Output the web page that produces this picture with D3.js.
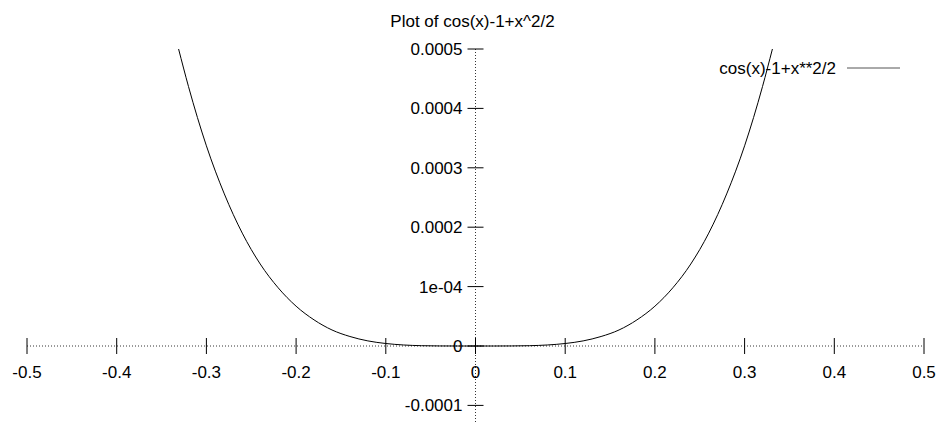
<!DOCTYPE html>
<html>
<head>
<meta charset="utf-8">
<script src="https://cdn.jsdelivr.net/npm/d3@7"></script>
<style>
  body { margin: 0; background: #fff; }
  text { font-family: "Liberation Sans", Arial, sans-serif; font-size: 17px; fill: #000; }
</style>
</head>
<body>
<svg id="chart"></svg>
<script>
// Dimensions
const width = 947;
const height = 423;

// Valeurs (y en unités de 1e-4)
const xValues = [-0.331, -0.32, -0.30, -0.28, -0.26, -0.24, -0.22, -0.20, -0.18, -0.16, -0.14, -0.12, -0.10, -0.08, -0.06, -0.04, -0.02, 0,
                 0.02, 0.04, 0.06, 0.08, 0.10, 0.12, 0.14, 0.16, 0.18, 0.20, 0.22, 0.24, 0.26, 0.28, 0.30, 0.32, 0.331];
const yValues = [5.0, 4.37, 3.37, 2.56, 1.90, 1.38, 0.98, 0.67, 0.44, 0.27, 0.16, 0.086, 0.042, 0.017, 0.005, 0.001, 0.0, 0,
                 0.0, 0.001, 0.005, 0.017, 0.042, 0.086, 0.16, 0.27, 0.44, 0.67, 0.98, 1.38, 1.90, 2.56, 3.37, 4.37, 5.0];
const xTicks = [-0.5, -0.4, -0.3, -0.2, -0.1, 0, 0.1, 0.2, 0.3, 0.4, 0.5];
const yTicks = [-0.0001, 0, 0.0001, 0.0002, 0.0003, 0.0004, 0.0005];
const yTickLabels = ["-0.0001", "0", "1e-04", "0.0002", "0.0003", "0.0004", "0.0005"];
const title = "Plot of cos(x)-1+x^2/2";
const legendLabel = "cos(x)-1+x**2/2";

const x = d3.scaleLinear().domain([-0.5, 0.5]).range([27, 924]);
const y = d3.scaleLinear().domain([0, 0.0005]).range([346, 49]);

const svg = d3.select("#chart")
    .attr("width", width)
    .attr("height", height);

// Axes pointillés
svg.append("line")
    .attr("x1", x(-0.5)).attr("x2", x(0.5))
    .attr("y1", y(0)).attr("y2", y(0))
    .attr("stroke", "#000").attr("stroke-width", 0.8)
    .attr("stroke-dasharray", "1,2");
svg.append("line")
    .attr("x1", x(0)).attr("x2", x(0))
    .attr("y1", y(0.0005)).attr("y2", height)
    .attr("stroke", "#000").attr("stroke-width", 0.8)
    .attr("stroke-dasharray", "1,2");

// Graduations en x
const gx = svg.append("g");
xTicks.forEach(function(t) {
    gx.append("line")
        .attr("x1", x(t)).attr("x2", x(t))
        .attr("y1", y(0) - 8).attr("y2", y(0) + 8)
        .attr("stroke", "#000");
    gx.append("text")
        .attr("x", x(t)).attr("y", y(0) + 32)
        .attr("text-anchor", "middle")
        .text(String(t));
});

// Graduations en y
const gy = svg.append("g");
yTicks.forEach(function(t, i) {
    gy.append("line")
        .attr("x1", x(0) - 8).attr("x2", x(0) + 8)
        .attr("y1", y(t)).attr("y2", y(t))
        .attr("stroke", "#000");
    gy.append("text")
        .attr("x", x(0) - 13).attr("y", y(t) + 6)
        .attr("text-anchor", "end")
        .text(yTickLabels[i]);
});

// Courbe
const data = xValues.map(function(v, i) { return [v, yValues[i] * 1e-4]; });
const line = d3.line()
    .x(function(d) { return x(d[0]); })
    .y(function(d) { return y(d[1]); })
    .curve(d3.curveMonotoneX);

svg.append("path")
    .datum(data)
    .attr("d", line)
    .attr("fill", "none")
    .attr("stroke", "#000")
    .attr("stroke-width", 1);

// Titre
svg.append("text")
    .attr("x", x(0) - 3).attr("y", 27)
    .attr("text-anchor", "middle")
    .text(title);

// Légende
svg.append("text")
    .attr("x", 836).attr("y", 74)
    .attr("text-anchor", "end")
    .text(legendLabel);
svg.append("line")
    .attr("x1", 847).attr("x2", 900)
    .attr("y1", 68).attr("y2", 68)
    .attr("stroke", "#555").attr("stroke-width", 1);
</script>
</body>
</html>
